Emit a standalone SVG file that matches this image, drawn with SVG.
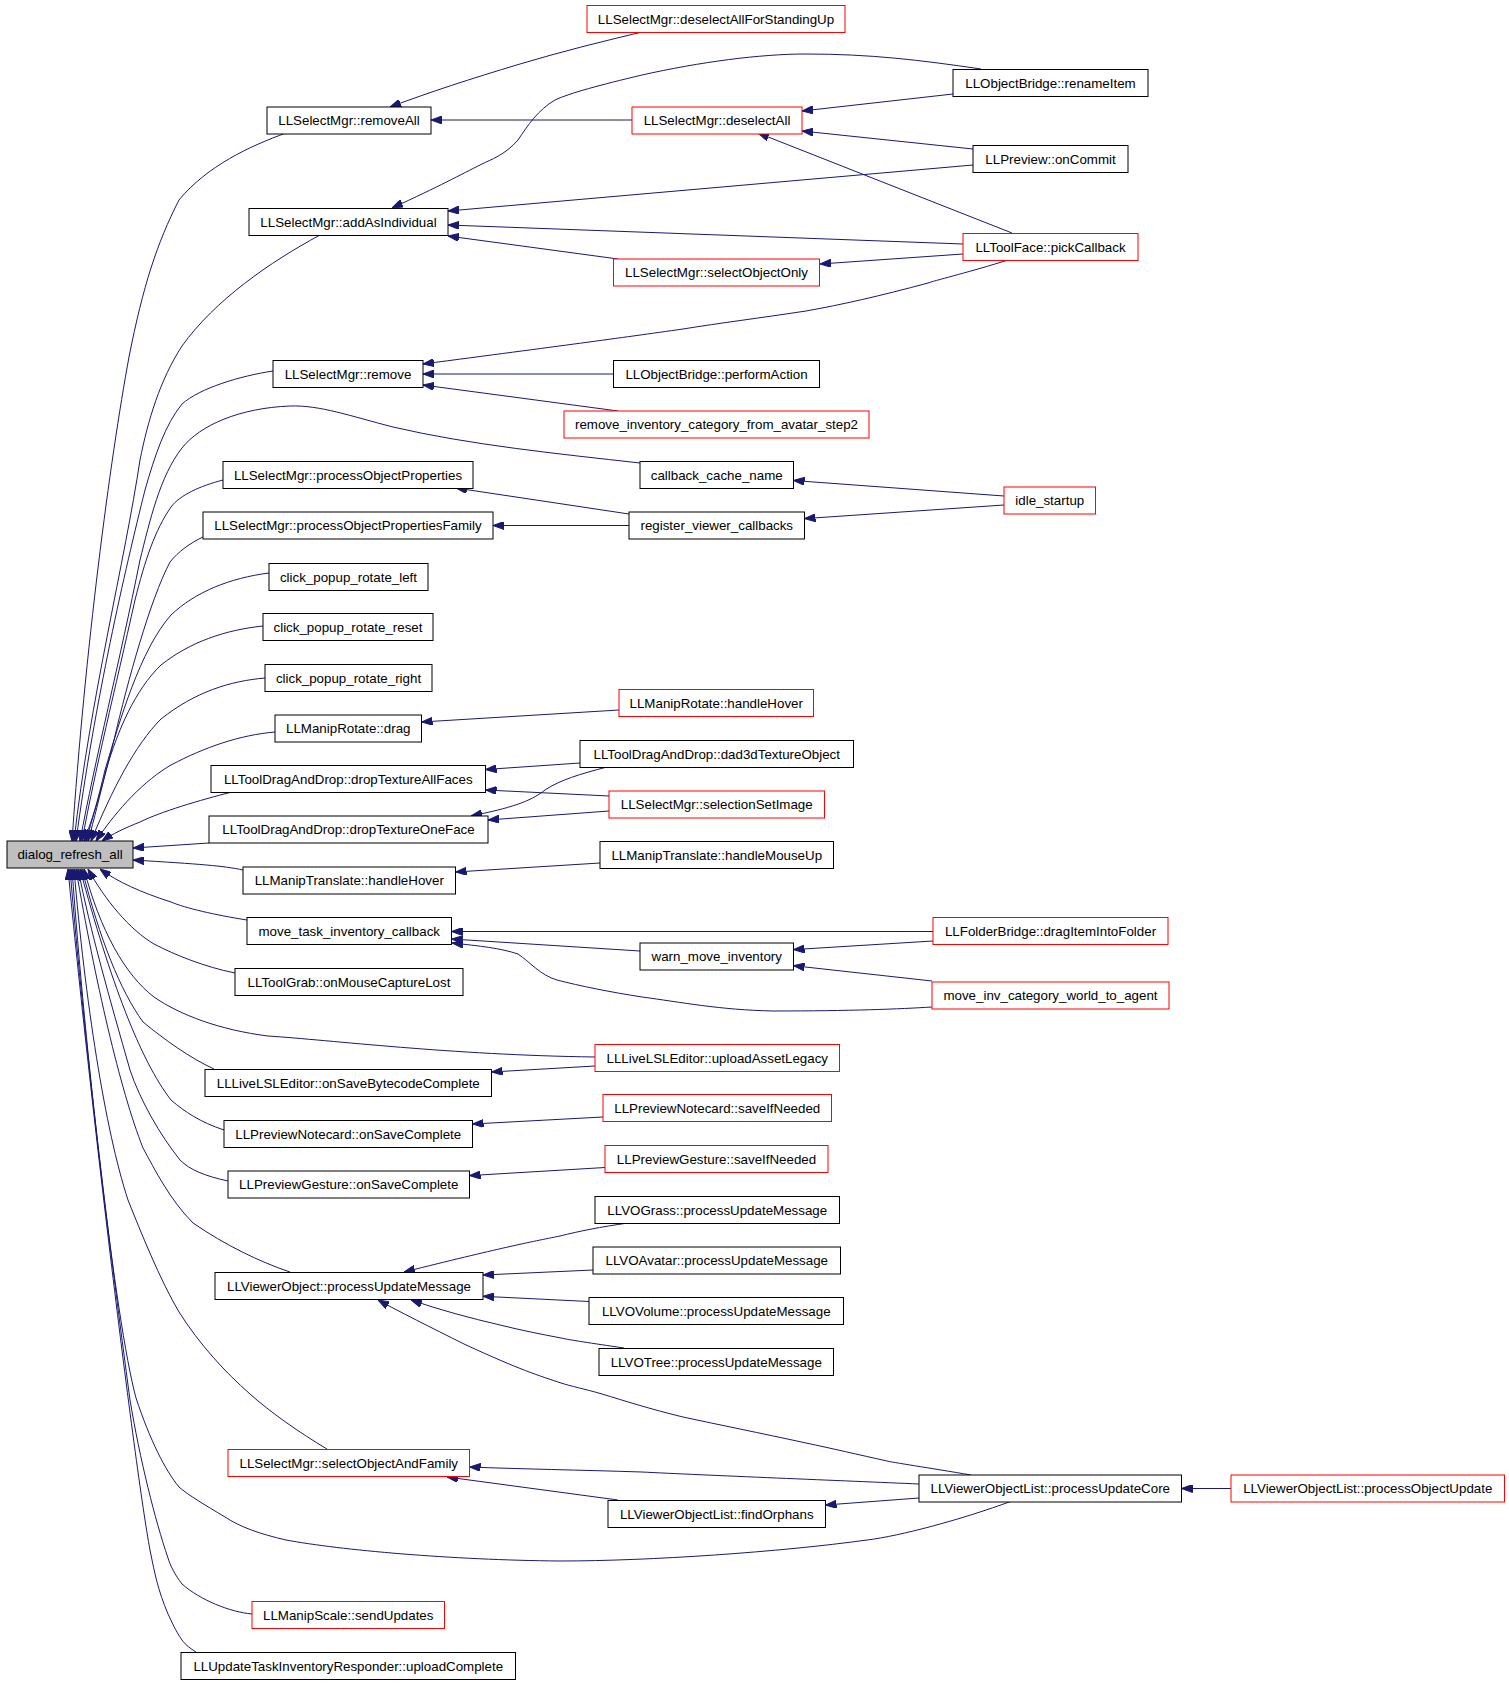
<svg xmlns="http://www.w3.org/2000/svg" width="1509" height="1684" viewBox="0 0 1509 1684">
<defs>
<marker id="ah" viewBox="0 0 11 8" refX="11" refY="4" markerWidth="11" markerHeight="8" markerUnits="userSpaceOnUse" orient="auto">
<path d="M0,0 L11,4 L0,8 z" fill="#191970" stroke="#191970" stroke-width="1"/>
</marker>
</defs>
<style>
.e path{fill:none;stroke:#191970;stroke-width:1;marker-end:url(#ah)}
.n rect{fill:#ffffff;stroke:#000000;stroke-width:1}
.n.r rect{stroke:#ff0000}
.n.root rect{fill:#bfbfbf}
.n text{font-family:"Liberation Sans",Arial,sans-serif;font-size:13.33px;text-anchor:middle;fill:#000000}
</style>
<rect width="1509" height="1684" fill="#ffffff"/>
<g id="edges" class="e">
<path d="M286,133 C250,146 207,166 179,200 C157,243 143,286 129,357 C110,460 85,650 72,841"/>
<path d="M320,235 C270,262 215,300 182,346 C160,380 148,420 140,460 C125,560 90,700 74,841"/>
<path d="M273,371 C240,376 200,388 182,404 C165,425 155,455 145,490 C125,570 95,700 76,841"/>
<path d="M640,463 C560,454 470,445 393,427 C350,416 320,405 290,406 C240,408 200,425 182,448 C160,476 150,520 140,560 C120,660 95,760 80,841"/>
<path d="M223,480 C200,486 180,495 171,507 C155,530 145,560 135,600 C115,690 95,770 82,841"/>
<path d="M203,537 C190,543 178,552 170,562 C150,600 128,680 114,740 C104,780 96,810 84,841"/>
<path d="M269,573 C230,578 195,592 171,615 C140,650 120,720 105,770 C98,800 92,820 86,841"/>
<path d="M263,626 C225,630 190,642 161,665 C135,690 118,730 106,770 C100,795 94,820 88,841"/>
<path d="M265,678 C230,681 195,692 161,719 C135,745 112,790 91,841"/>
<path d="M275,732 C240,735 205,747 171,765 C145,780 118,808 96,841"/>
<path d="M232,792 C200,800 160,812 140,822 C125,828 112,834 102,841"/>
<path d="M209,843 L133,848"/>
<path d="M243,870 C225,866 200,864 133,860"/>
<path d="M247,920 C215,915 185,908 171,902 C140,892 118,882 100,869"/>
<path d="M235,973 C205,967 175,955 154,944 C130,930 105,900 88,869"/>
<path d="M595,1057 C450,1055 330,1040 268,1036 C220,1030 180,1015 154,997 C125,975 100,930 84,869"/>
<path d="M214,1069 C190,1058 165,1040 143,1022 C120,990 100,940 82,869"/>
<path d="M224,1130 C200,1122 185,1112 171,1100 C140,1060 110,980 80,869"/>
<path d="M228,1181 C205,1176 190,1170 180,1160 C160,1135 140,1100 130,1070 C110,1000 90,930 78,869"/>
<path d="M290,1272 C260,1262 225,1245 193,1223 C170,1200 155,1170 143,1148 C120,1090 95,980 76,869"/>
<path d="M327,1449 C300,1433 270,1412 250,1394 C225,1372 200,1345 179,1312 C160,1280 140,1230 128,1200 C105,1130 85,1000 74,869"/>
<path d="M1012,1501 C960,1520 900,1536 867,1540 C780,1552 650,1561 560,1561 C450,1560 340,1550 286,1540 C260,1534 240,1527 225,1517 C205,1505 188,1495 179,1487 C165,1470 150,1440 136,1398 C115,1320 85,1050 72,869"/>
<path d="M252,1614 C230,1612 200,1600 182,1584 C175,1575 170,1565 168,1558 C155,1520 140,1460 130,1400 C110,1250 85,1050 70,869"/>
<path d="M196,1652 C188,1647 185,1644 182,1640 C175,1630 172,1622 168,1614 C158,1590 155,1575 150,1550 C135,1470 90,1100 68,869"/>
<path d="M642,32 C600,42 560,52 520,64 C470,79 430,92 390,107"/>
<path d="M632,120 L431,120"/>
<path d="M953,94 L802,111"/>
<path d="M973,149 L802,131"/>
<path d="M1012,233 L758,133"/>
<path d="M981,69 C920,60 870,54 806,54 C760,54 700,62 642,75 C600,85 570,93 555,100 C538,110 528,125 518,140 C505,155 490,160 482,164 C460,175 440,186 392,208"/>
<path d="M973,165 L448,211"/>
<path d="M963,244 L448,225"/>
<path d="M618,259 L448,236"/>
<path d="M963,254 L820,264"/>
<path d="M1008,260 C970,272 940,279 928,283 C880,296 840,305 806,311 C760,318 720,323 683,329 C620,338 560,346 423,364"/>
<path d="M613,374 L423,374"/>
<path d="M618,411 L423,385"/>
<path d="M629,514 L456,488"/>
<path d="M629,525.5 L493,525.5"/>
<path d="M1004,496 L793.5,480.5"/>
<path d="M1004,505 L804.5,518.6"/>
<path d="M619,710 L421.5,722"/>
<path d="M580,763 L485.5,769.5"/>
<path d="M609,796 L485.5,790"/>
<path d="M607,767 C580,774 560,780 545,790 C530,802 510,808 471,816"/>
<path d="M609,811 L488,820"/>
<path d="M600,863 L455.5,872"/>
<path d="M933,931.5 L451.5,931.5"/>
<path d="M640,951 L451.5,939"/>
<path d="M932,1007 C900,1009 850,1011 773,1011 C720,1010 680,1002 642,997 C610,992 580,986 557,980 C540,975 530,962 518,954 C500,948 480,946 452,943"/>
<path d="M933,941 L793.5,949.6"/>
<path d="M932,981 L793.5,965.7"/>
<path d="M595,1066 L491.5,1072"/>
<path d="M603,1117 L472.5,1124"/>
<path d="M605,1167.5 L469.5,1175.6"/>
<path d="M628,1223 C600,1227 580,1231 560,1236 C530,1242 500,1248 404,1272"/>
<path d="M593,1270 L483,1275"/>
<path d="M589,1301.5 L483,1296.3"/>
<path d="M624,1348 C590,1343 570,1340 561,1338 C540,1334 520,1330 500,1325 C470,1318 440,1310 411,1300"/>
<path d="M971,1475 C930,1468 890,1462 887,1461 C860,1455 830,1448 806,1443 C760,1433 720,1425 683,1417 C650,1409 625,1401 602,1394 C585,1389 570,1386 561,1383 C540,1376 520,1370 464,1344 C430,1327 400,1312 378,1300"/>
<path d="M919,1484 C850,1481 700,1475 642,1472 C580,1470 520,1469 469.5,1467"/>
<path d="M618,1500 L447,1477"/>
<path d="M919,1498 L825.5,1505"/>
<path d="M1231,1488.5 L1181.5,1488.5"/>
</g>
<g id="n_dialog_refresh_all" class="n root"><rect x="7" y="841" width="126" height="27"/><text x="70" y="859">dialog_refresh_all</text></g>
<g id="n_deselectAllForStandingUp" class="n r"><rect x="587" y="5.5" width="258" height="27"/><text x="716" y="23.5">LLSelectMgr::deselectAllForStandingUp</text></g>
<g id="n_renameItem" class="n"><rect x="953" y="69.5" width="195" height="27"/><text x="1050.5" y="87.5">LLObjectBridge::renameItem</text></g>
<g id="n_removeAll" class="n"><rect x="267" y="107" width="164" height="27"/><text x="349" y="125">LLSelectMgr::removeAll</text></g>
<g id="n_deselectAll" class="n r"><rect x="632" y="107" width="170" height="27"/><text x="717" y="125">LLSelectMgr::deselectAll</text></g>
<g id="n_onCommit" class="n"><rect x="973" y="145.5" width="155" height="27"/><text x="1050.5" y="163.5">LLPreview::onCommit</text></g>
<g id="n_addAsIndividual" class="n"><rect x="249" y="208.5" width="199" height="27"/><text x="348.5" y="226.5">LLSelectMgr::addAsIndividual</text></g>
<g id="n_pickCallback" class="n r"><rect x="963" y="233.5" width="175" height="27"/><text x="1050.5" y="251.5">LLToolFace::pickCallback</text></g>
<g id="n_selectObjectOnly" class="n r"><rect x="613.5" y="259" width="206" height="27"/><text x="716.5" y="277">LLSelectMgr::selectObjectOnly</text></g>
<g id="n_remove" class="n"><rect x="273" y="360.5" width="150" height="27"/><text x="348" y="378.5">LLSelectMgr::remove</text></g>
<g id="n_performAction" class="n"><rect x="613.5" y="360.5" width="206" height="27"/><text x="716.5" y="378.5">LLObjectBridge::performAction</text></g>
<g id="n_remove_inventory_category_from_avatar_step2" class="n r"><rect x="564" y="411" width="305" height="27"/><text x="716.5" y="429">remove_inventory_category_from_avatar_step2</text></g>
<g id="n_processObjectProperties" class="n"><rect x="223" y="461.5" width="250" height="27"/><text x="348" y="479.5">LLSelectMgr::processObjectProperties</text></g>
<g id="n_callback_cache_name" class="n"><rect x="640" y="461.5" width="153.5" height="27"/><text x="716.75" y="479.5">callback_cache_name</text></g>
<g id="n_idle_startup" class="n r"><rect x="1004" y="487" width="91.5" height="27"/><text x="1049.75" y="505">idle_startup</text></g>
<g id="n_processObjectPropertiesFamily" class="n"><rect x="203" y="512" width="290" height="27"/><text x="348" y="530">LLSelectMgr::processObjectPropertiesFamily</text></g>
<g id="n_register_viewer_callbacks" class="n"><rect x="629" y="512" width="175.5" height="27"/><text x="716.75" y="530">register_viewer_callbacks</text></g>
<g id="n_click_popup_rotate_left" class="n"><rect x="269" y="563.5" width="159" height="27"/><text x="348.5" y="581.5">click_popup_rotate_left</text></g>
<g id="n_click_popup_rotate_reset" class="n"><rect x="263" y="613.5" width="170" height="27"/><text x="348" y="631.5">click_popup_rotate_reset</text></g>
<g id="n_click_popup_rotate_right" class="n"><rect x="265" y="664.5" width="167" height="27"/><text x="348.5" y="682.5">click_popup_rotate_right</text></g>
<g id="n_ManipRotate_handleHover" class="n r"><rect x="619" y="689.5" width="194.5" height="27"/><text x="716.25" y="707.5">LLManipRotate::handleHover</text></g>
<g id="n_ManipRotate_drag" class="n"><rect x="275" y="715" width="146.5" height="27"/><text x="348.25" y="733">LLManipRotate::drag</text></g>
<g id="n_dad3dTextureObject" class="n"><rect x="580" y="740.5" width="273.5" height="27"/><text x="716.75" y="758.5">LLToolDragAndDrop::dad3dTextureObject</text></g>
<g id="n_dropTextureAllFaces" class="n"><rect x="211" y="765.5" width="274.5" height="27"/><text x="348.25" y="783.5">LLToolDragAndDrop::dropTextureAllFaces</text></g>
<g id="n_selectionSetImage" class="n r"><rect x="609" y="791" width="215.5" height="27"/><text x="716.75" y="809">LLSelectMgr::selectionSetImage</text></g>
<g id="n_dropTextureOneFace" class="n"><rect x="209" y="816" width="279" height="27"/><text x="348.5" y="834">LLToolDragAndDrop::dropTextureOneFace</text></g>
<g id="n_handleMouseUp" class="n"><rect x="600" y="841.5" width="233.5" height="27"/><text x="716.75" y="859.5">LLManipTranslate::handleMouseUp</text></g>
<g id="n_ManipTranslate_handleHover" class="n"><rect x="243" y="867" width="212.5" height="27"/><text x="349.25" y="885">LLManipTranslate::handleHover</text></g>
<g id="n_move_task_inventory_callback" class="n"><rect x="247" y="917.5" width="204.5" height="27"/><text x="349.25" y="935.5">move_task_inventory_callback</text></g>
<g id="n_dragItemIntoFolder" class="n r"><rect x="933" y="917.5" width="235" height="27"/><text x="1050.5" y="935.5">LLFolderBridge::dragItemIntoFolder</text></g>
<g id="n_warn_move_inventory" class="n"><rect x="640" y="943" width="153.5" height="27"/><text x="716.75" y="961">warn_move_inventory</text></g>
<g id="n_onMouseCaptureLost" class="n"><rect x="235" y="968.5" width="228" height="27"/><text x="349" y="986.5">LLToolGrab::onMouseCaptureLost</text></g>
<g id="n_move_inv_category_world_to_agent" class="n r"><rect x="932" y="982" width="237" height="27"/><text x="1050.5" y="1000">move_inv_category_world_to_agent</text></g>
<g id="n_uploadAssetLegacy" class="n r"><rect x="595" y="1044.5" width="244.5" height="27"/><text x="717.25" y="1062.5">LLLiveLSLEditor::uploadAssetLegacy</text></g>
<g id="n_onSaveBytecodeComplete" class="n"><rect x="205" y="1069.5" width="286.5" height="27"/><text x="348.25" y="1087.5">LLLiveLSLEditor::onSaveBytecodeComplete</text></g>
<g id="n_Notecard_saveIfNeeded" class="n r"><rect x="603" y="1094.5" width="228.5" height="27"/><text x="717.25" y="1112.5">LLPreviewNotecard::saveIfNeeded</text></g>
<g id="n_Notecard_onSaveComplete" class="n"><rect x="224" y="1120.5" width="248.5" height="27"/><text x="348.25" y="1138.5">LLPreviewNotecard::onSaveComplete</text></g>
<g id="n_Gesture_saveIfNeeded" class="n r"><rect x="605" y="1145.5" width="223" height="27"/><text x="716.5" y="1163.5">LLPreviewGesture::saveIfNeeded</text></g>
<g id="n_Gesture_onSaveComplete" class="n"><rect x="228" y="1171" width="241.5" height="27"/><text x="348.75" y="1189">LLPreviewGesture::onSaveComplete</text></g>
<g id="n_VOGrass" class="n"><rect x="595" y="1196.5" width="244.5" height="27"/><text x="717.25" y="1214.5">LLVOGrass::processUpdateMessage</text></g>
<g id="n_VOAvatar" class="n"><rect x="593" y="1247" width="247.5" height="27"/><text x="716.75" y="1265">LLVOAvatar::processUpdateMessage</text></g>
<g id="n_processUpdateMessage" class="n"><rect x="215" y="1272.5" width="268" height="27"/><text x="349" y="1290.5">LLViewerObject::processUpdateMessage</text></g>
<g id="n_VOVolume" class="n"><rect x="589" y="1297.5" width="254.5" height="27"/><text x="716.25" y="1315.5">LLVOVolume::processUpdateMessage</text></g>
<g id="n_VOTree" class="n"><rect x="599" y="1348.5" width="234.5" height="27"/><text x="716.25" y="1366.5">LLVOTree::processUpdateMessage</text></g>
<g id="n_selectObjectAndFamily" class="n r"><rect x="228" y="1449.5" width="241.5" height="27"/><text x="348.75" y="1467.5">LLSelectMgr::selectObjectAndFamily</text></g>
<g id="n_processUpdateCore" class="n"><rect x="919" y="1475" width="262.5" height="27"/><text x="1050.25" y="1493">LLViewerObjectList::processUpdateCore</text></g>
<g id="n_processObjectUpdate" class="n r"><rect x="1231" y="1475" width="273.5" height="27"/><text x="1367.75" y="1493">LLViewerObjectList::processObjectUpdate</text></g>
<g id="n_findOrphans" class="n"><rect x="608" y="1500.5" width="217.5" height="27"/><text x="716.75" y="1518.5">LLViewerObjectList::findOrphans</text></g>
<g id="n_sendUpdates" class="n r"><rect x="252" y="1601.5" width="192.5" height="27"/><text x="348.25" y="1619.5">LLManipScale::sendUpdates</text></g>
<g id="n_uploadComplete" class="n"><rect x="181" y="1652.5" width="334.5" height="27"/><text x="348.25" y="1670.5">LLUpdateTaskInventoryResponder::uploadComplete</text></g>
</svg>
